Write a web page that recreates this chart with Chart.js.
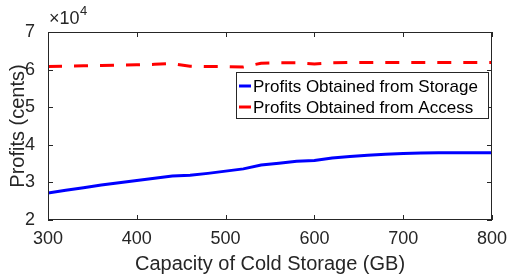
<!DOCTYPE html>
<html>
<head>
<meta charset="utf-8">
<script src="https://cdn.jsdelivr.net/npm/chart.js@4"></script>
<style>
  html, body { margin: 0; padding: 0; background: #fff; }
  #wrap { width: 510px; height: 276px; }
</style>
</head>
<body>
<div id="wrap"><canvas id="profits" width="510" height="276"></canvas></div>
<script>
var capacity = [300, 320, 340, 360, 380, 400, 420, 440, 460, 480, 500, 520, 540, 560, 580, 600, 620, 640, 660, 680, 700, 720, 740, 760, 780, 800];
var storageProfit = [27200, 27900, 28600, 29300, 29900, 30500, 31100, 31700, 31900, 32400, 33000, 33600, 34600, 35100, 35600, 35800, 36500, 36900, 37200, 37500, 37700, 37800, 37900, 37900, 37900, 37900];
var accessProfit = [60800, 60900, 61000, 61100, 61200, 61300, 61400, 61600, 60900, 60800, 60800, 60700, 61700, 61800, 61800, 61500, 61800, 61900, 61900, 61900, 61900, 61900, 61900, 61900, 61900, 61900];
var xTicks = [300, 400, 500, 600, 700, 800];
var yTicks = [20000, 30000, 40000, 50000, 60000, 70000];

var axisColor = '#262626';
var font = 'Liberation Sans, Arial, sans-serif';

// MATLAB style box with inward ticks and the x10^4 exponent label
var boxPlugin = {
  id: 'box',
  afterDraw: function (chart) {
    var c = chart.ctx, a = chart.chartArea;
    var xs = chart.scales.x, ys = chart.scales.y;
    c.save();
    c.strokeStyle = axisColor;
    c.lineWidth = 1;
    c.strokeRect(a.left + 0.5, a.top + 0.5, a.right - a.left - 1, a.bottom - a.top - 1);
    c.beginPath();
    xTicks.forEach(function (v) {
      var px = Math.round(xs.getPixelForValue(v)) + 0.5;
      c.moveTo(px, a.bottom); c.lineTo(px, a.bottom - 5);
      c.moveTo(px, a.top); c.lineTo(px, a.top + 5);
    });
    yTicks.forEach(function (v) {
      var py = Math.round(ys.getPixelForValue(v)) + 0.5;
      c.moveTo(a.left, py); c.lineTo(a.left + 5, py);
      c.moveTo(a.right, py); c.lineTo(a.right - 5, py);
    });
    c.stroke();
    c.fillStyle = axisColor;
    c.font = '18px ' + font;
    c.textBaseline = 'alphabetic';
    c.fillText('\u00d710', a.left + 1, a.top - 8);
    c.font = '13px ' + font;
    c.fillText('4', a.left + 32, a.top - 17);
    c.restore();
  }
};

var chart = new Chart(document.getElementById('profits').getContext('2d'), {
  type: 'line',
  data: {
    labels: capacity,
    datasets: [{
      label: 'Profits Obtained from Storage',
      data: storageProfit,
      borderColor: '#0000ff',
      backgroundColor: '#0000ff',
      borderWidth: 3,
      pointRadius: 0,
      fill: false
    }, {
      label: 'Profits Obtained from Access',
      data: accessProfit,
      borderColor: '#ff0000',
      backgroundColor: '#ff0000',
      borderWidth: 3,
      borderDash: [14, 12],
      pointRadius: 0,
      fill: false
    }]
  },
  options: {
    responsive: false,
    animation: false,
    layout: { padding: { top: 32, right: 18, left: 6, bottom: 0 } },
    plugins: {
      legend: { display: false },
      tooltip: { enabled: false }
    },
    scales: {
      x: {
        type: 'linear',
        min: 300, max: 800,
        afterBuildTicks: function (s) { s.ticks = xTicks.map(function (v) { return { value: v }; }); },
        afterFit: function (s) { s.height = 56; },
        grid: { display: false },
        border: { display: false },
        ticks: { color: axisColor, font: { family: font, size: 18 }, padding: 0, maxRotation: 0 },
        title: { display: true, text: 'Capacity of Cold Storage (GB)', color: axisColor, font: { family: font, size: 20 }, padding: { top: 0, bottom: 0 } }
      },
      y: {
        min: 20000, max: 70000,
        afterBuildTicks: function (s) { s.ticks = yTicks.map(function (v) { return { value: v }; }); },
        afterFit: function (s) { s.width = 42; },
        grid: { display: false },
        border: { display: false },
        ticks: { color: axisColor, font: { family: font, size: 18 }, padding: 5, callback: function (v) { return v / 10000; } },
        title: { display: true, text: 'Profits (cents)', color: axisColor, font: { family: font, size: 20 }, padding: { top: 0, bottom: 0 } }
      }
    }
  },
  plugins: [boxPlugin, {
    id: 'matlabLegend',
    afterDraw: function (chart) {
      var c = chart.ctx;
      var x0 = 236, y0 = 72, w = 252, h = 46;
      c.save();
      c.fillStyle = '#fff';
      c.fillRect(x0, y0, w, h);
      c.strokeStyle = axisColor;
      c.lineWidth = 1;
      c.strokeRect(x0 + 0.5, y0 + 0.5, w, h);
      c.font = '17px ' + font;
      c.textBaseline = 'middle';
      chart.data.datasets.forEach(function (d, i) {
        var yy = y0 + 14 + i * 21;
        c.strokeStyle = d.borderColor;
        c.lineWidth = 3;
        c.setLineDash([]);
        c.beginPath(); c.moveTo(x0 + 3, yy); c.lineTo(x0 + 15, yy); c.stroke();
        c.fillStyle = '#000';
        c.fillText(d.label, x0 + 17, yy + 1);
      });
      c.restore();
    }
  }]
});
</script>
</body>
</html>
